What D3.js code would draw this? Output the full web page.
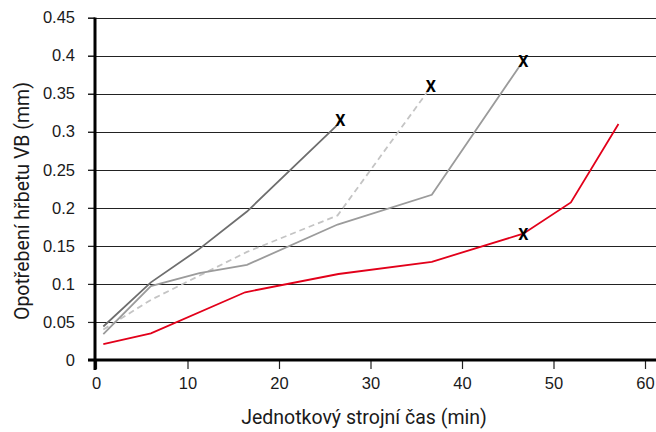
<!DOCTYPE html>
<html>
<head>
<meta charset="utf-8">
<style>
  body { margin: 0; background: #fff; }
  svg { display: block; font-family: Roboto, "DejaVu Sans Condensed", sans-serif; }
</style>
</head>
<body>
<div id="chart"></div>
<script src="https://cdn.jsdelivr.net/npm/d3@7"></script>
<script>
// data: [time (min), VB (mm)]
var darkGray  = [[0.8,0.044],[6,0.102],[11.3,0.146],[16.5,0.195],[26.3,0.308]];
var dashed    = [[0.8,0.04],[6,0.079],[16.5,0.142],[26.4,0.19],[36.2,0.352]];
var midGray   = [[0.8,0.034],[6,0.097],[11.3,0.114],[16.5,0.125],[26.4,0.178],[36.7,0.217],[46.4,0.388]];
var red       = [[0.8,0.021],[6,0.035],[16.3,0.089],[26.5,0.113],[36.7,0.129],[46.7,0.166],[51.9,0.207],[57.1,0.31]];
var endMarks  = [[26.7,0.315],[36.6,0.36],[46.7,0.392],[46.7,0.165]];
var xTicks = [0,10,20,30,40,50,60];
var yTicks = [0,0.05,0.1,0.15,0.2,0.25,0.3,0.35,0.4,0.45];

var W = 656, H = 432;
var svg = d3.select('#chart').append('svg').attr('width', W).attr('height', H);

var x = d3.scaleLinear().domain([0, 60]).range([96, 645]);
var y = d3.scaleLinear().domain([0, 0.45]).range([360, 17.5]);

// horizontal grid lines
svg.append('g').selectAll('line')
  .data(yTicks.slice(1))
  .enter().append('line')
  .attr('x1', 88).attr('x2', W)
  .attr('y1', function(d){ return Math.round(y(d)) + 0.5; })
  .attr('y2', function(d){ return Math.round(y(d)) + 0.5; })
  .style('stroke', '#222').style('stroke-width', 1.2);

// y axis labels
var ya = svg.append('g')
  .attr('transform', 'translate(95,0)')
  .call(d3.axisLeft(y).tickValues(yTicks).tickSize(7).tickPadding(13)
    .tickFormat(function(d){ return d === 0 ? '0' : String(+d.toFixed(2)); }));
ya.select('.domain').remove();
ya.selectAll('.tick line').style('stroke', '#222').style('stroke-width', 1.2);
ya.selectAll('text').style('font-size', '16.5px').style('fill', '#1a1a1a');

// x axis
var xa = svg.append('g')
  .attr('transform', 'translate(0,360)')
  .call(d3.axisBottom(x).tickValues(xTicks).tickSize(9).tickPadding(8));
xa.select('.domain').remove();
xa.selectAll('.tick line').style('stroke', '#222').style('stroke-width', 1.2);
xa.selectAll('text').style('font-size', '16.5px').style('fill', '#1a1a1a');

// thick axis lines
svg.append('line').attr('x1', 88).attr('x2', W).attr('y1', 360).attr('y2', 360)
  .style('stroke', '#000').style('stroke-width', 3);
svg.append('line').attr('x1', 95).attr('x2', 95).attr('y1', y(0.45)).attr('y2', 370)
  .style('stroke', '#000').style('stroke-width', 3);

var line = d3.line().x(function(d){ return x(d[0]); }).y(function(d){ return y(d[1]); });

function drawSeries(data, color, dash){
  svg.append('path').datum(data)
    .attr('d', line)
    .attr('fill', 'none')
    .attr('stroke', color)
    .attr('stroke-width', 1.8)
    .attr('stroke-dasharray', dash || null);
}
drawSeries(dashed, '#c4c4c4', '6,4');
drawSeries(midGray, '#9b9b9b');
drawSeries(darkGray, '#6e6e6e');
drawSeries(red, '#e2001a');

svg.append('g').selectAll('text')
  .data(endMarks)
  .enter().append('text')
  .attr('x', function(d){ return x(d[0]); })
  .attr('y', function(d){ return y(d[1]); })
  .attr('text-anchor', 'middle')
  .attr('dy', '0.36em')
  .style('font-size', '16px').style('font-weight', 'bold').style('fill', '#000')
  .text('X');

// axis titles
svg.append('text')
  .attr('x', 364).attr('y', 417).attr('dy', '0.35em')
  .attr('text-anchor', 'middle')
  .style('font-size', '19.5px').style('fill', '#1a1a1a')
  .text('Jednotkový strojní čas (min)');
svg.append('text')
  .attr('transform', 'translate(22,201) rotate(-90)')
  .attr('dy', '0.35em')
  .attr('text-anchor', 'middle')
  .style('font-size', '19.5px').style('fill', '#1a1a1a')
  .text('Opotřebení hřbetu VB (mm)');
</script>
</body>
</html>
